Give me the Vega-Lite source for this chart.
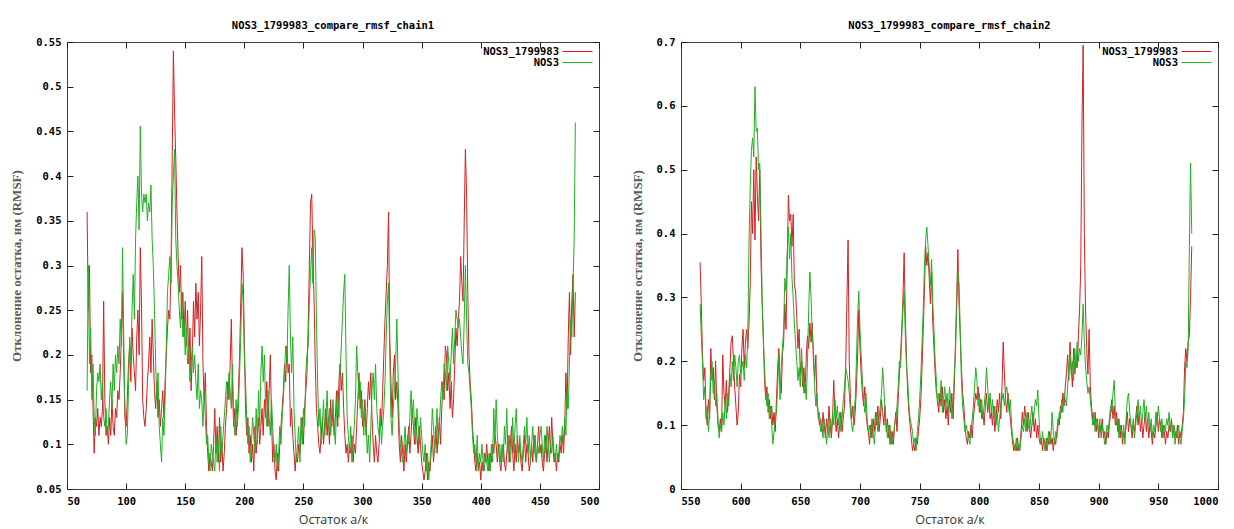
{
"$schema": "https://vega.github.io/schema/vega-lite/v6.json",
"background": "white",
"padding": {"left": 10, "top": 20, "right": 0, "bottom": 0},
"spacing": 30,
"config": {
  "view": {"stroke": "#404040", "strokeWidth": 1},
  "axis": {"domain": false, "grid": false, "labelFont": "DejaVu Sans Mono", "labelFontWeight": "bold", "labelFontSize": 10.5, "labelColor": "#000", "ticks": true, "tickColor": "#202020", "tickSize": 6, "tickWidth": 1, "offset": -6},
  "axisX": {"labelPadding": 7, "titleFont": "Open Sans", "titleFontSize": 12.5, "titleFontWeight": "normal", "titleColor": "#333", "titlePadding": 7},
  "axisY": {"labelPadding": 6, "titleFont": "Liberation Serif", "titleFontSize": 13, "titleFontWeight": "bold", "titleColor": "#5a5a5a", "titlePadding": 12},
  "title": {"font": "DejaVu Sans Mono", "fontWeight": "bold", "fontSize": 10.5, "color": "#000", "offset": 6},
  "legend": {"orient": "top-right", "title": null, "offset": 4, "padding": 0, "symbolType": "M-3,0H3", "symbolSize": 100, "symbolStrokeWidth": 1, "labelAlign": "right", "labelOffset": -24, "symbolOffset": 16, "rowPadding": 0, "labelFont": "DejaVu Sans Mono", "labelFontWeight": "bold", "labelFontSize": 10.5, "labelColor": "#000"}
},
"resolve": {"scale": {"color": "independent"}, "legend": {"color": "independent"}},
"datasets": {
"c1": [
{"r":67,"a":0.36,"b":0.16},{"r":68,"a":0.25,"b":0.30},{"r":69,"a":0.30,"b":0.19},{"r":70,"a":0.18,"b":0.23},{"r":71,"a":0.20,"b":0.15},{"r":72,"a":0.14,"b":0.19},{"r":73,"a":0.09,"b":0.13},{"r":74,"a":0.13,"b":0.11},{"r":75,"a":0.12,"b":0.16},{"r":76,"a":0.14,"b":0.18},{"r":77,"a":0.11,"b":0.17},{"r":78,"a":0.13,"b":0.19},{"r":79,"a":0.12,"b":0.15},{"r":80,"a":0.14,"b":0.17},
{"r":81,"a":0.26,"b":0.13},{"r":82,"a":0.15,"b":0.12},{"r":83,"a":0.11,"b":0.14},{"r":84,"a":0.12,"b":0.11},{"r":85,"a":0.10,"b":0.12},{"r":86,"a":0.13,"b":0.15},{"r":87,"a":0.11,"b":0.17},{"r":88,"a":0.15,"b":0.14},{"r":89,"a":0.12,"b":0.19},{"r":90,"a":0.11,"b":0.16},
{"r":91,"a":0.14,"b":0.20},{"r":92,"a":0.13,"b":0.18},{"r":93,"a":0.16,"b":0.21},{"r":94,"a":0.15,"b":0.19},{"r":95,"a":0.18,"b":0.24},{"r":96,"a":0.22,"b":0.21},{"r":97,"a":0.27,"b":0.32},{"r":98,"a":0.19,"b":0.22},{"r":99,"a":0.13,"b":0.14},{"r":100,"a":0.12,"b":0.10},
{"r":101,"a":0.15,"b":0.11},{"r":102,"a":0.19,"b":0.16},{"r":103,"a":0.21,"b":0.22},{"r":104,"a":0.17,"b":0.19},{"r":105,"a":0.23,"b":0.25},{"r":106,"a":0.20,"b":0.29},{"r":107,"a":0.18,"b":0.24},{"r":108,"a":0.16,"b":0.33},{"r":109,"a":0.22,"b":0.37},{"r":110,"a":0.25,"b":0.40},
{"r":111,"a":0.20,"b":0.34},{"r":112,"a":0.32,"b":0.456},{"r":113,"a":0.26,"b":0.38},{"r":114,"a":0.15,"b":0.36},{"r":115,"a":0.13,"b":0.38},{"r":116,"a":0.12,"b":0.37},{"r":117,"a":0.14,"b":0.38},{"r":118,"a":0.17,"b":0.35},{"r":119,"a":0.19,"b":0.37},{"r":120,"a":0.22,"b":0.36},
{"r":121,"a":0.18,"b":0.39},{"r":122,"a":0.24,"b":0.33},{"r":123,"a":0.20,"b":0.30},{"r":124,"a":0.16,"b":0.25},{"r":125,"a":0.14,"b":0.19},{"r":126,"a":0.17,"b":0.15},{"r":127,"a":0.13,"b":0.18},{"r":128,"a":0.15,"b":0.12},{"r":129,"a":0.12,"b":0.10},{"r":130,"a":0.14,"b":0.08},
{"r":131,"a":0.16,"b":0.13},{"r":132,"a":0.13,"b":0.11},{"r":133,"a":0.17,"b":0.15},{"r":134,"a":0.20,"b":0.21},{"r":135,"a":0.23,"b":0.27},{"r":136,"a":0.25,"b":0.29},{"r":137,"a":0.24,"b":0.31},{"r":138,"a":0.30,"b":0.28},{"r":139,"a":0.42,"b":0.37},{"r":140,"a":0.54,"b":0.40},
{"r":141,"a":0.47,"b":0.43},{"r":142,"a":0.42,"b":0.33},{"r":143,"a":0.36,"b":0.30},{"r":144,"a":0.31,"b":0.28},{"r":145,"a":0.27,"b":0.25},{"r":146,"a":0.30,"b":0.23},{"r":147,"a":0.24,"b":0.27},{"r":148,"a":0.27,"b":0.22},{"r":149,"a":0.22,"b":0.24},{"r":150,"a":0.26,"b":0.20},
{"r":151,"a":0.21,"b":0.23},{"r":152,"a":0.25,"b":0.19},{"r":153,"a":0.19,"b":0.21},{"r":154,"a":0.23,"b":0.17},{"r":155,"a":0.16,"b":0.19},{"r":156,"a":0.20,"b":0.21},{"r":157,"a":0.26,"b":0.18},{"r":158,"a":0.22,"b":0.20},{"r":159,"a":0.28,"b":0.17},{"r":160,"a":0.24,"b":0.15},
{"r":161,"a":0.27,"b":0.19},{"r":162,"a":0.21,"b":0.14},{"r":163,"a":0.25,"b":0.16},{"r":164,"a":0.31,"b":0.15},{"r":165,"a":0.19,"b":0.12},{"r":166,"a":0.15,"b":0.16},{"r":167,"a":0.18,"b":0.13},{"r":168,"a":0.12,"b":0.10},{"r":169,"a":0.09,"b":0.11},{"r":170,"a":0.07,"b":0.08},
{"r":171,"a":0.09,"b":0.07},{"r":172,"a":0.08,"b":0.10},{"r":173,"a":0.07,"b":0.09},{"r":174,"a":0.10,"b":0.08},{"r":175,"a":0.14,"b":0.07},{"r":176,"a":0.09,"b":0.11},{"r":177,"a":0.12,"b":0.08},{"r":178,"a":0.08,"b":0.10},{"r":179,"a":0.13,"b":0.07},{"r":180,"a":0.08,"b":0.12},
{"r":181,"a":0.10,"b":0.09},{"r":182,"a":0.07,"b":0.11},{"r":183,"a":0.09,"b":0.13},{"r":184,"a":0.12,"b":0.15},{"r":185,"a":0.14,"b":0.17},{"r":186,"a":0.17,"b":0.15},{"r":187,"a":0.15,"b":0.18},{"r":188,"a":0.19,"b":0.16},{"r":189,"a":0.24,"b":0.14},{"r":190,"a":0.16,"b":0.19},
{"r":191,"a":0.12,"b":0.13},{"r":192,"a":0.14,"b":0.11},{"r":193,"a":0.11,"b":0.15},{"r":194,"a":0.13,"b":0.12},{"r":195,"a":0.16,"b":0.14},{"r":196,"a":0.20,"b":0.18},{"r":197,"a":0.26,"b":0.22},{"r":198,"a":0.32,"b":0.28},{"r":199,"a":0.29,"b":0.26},{"r":200,"a":0.22,"b":0.20},
{"r":201,"a":0.14,"b":0.17},{"r":202,"a":0.11,"b":0.13},{"r":203,"a":0.13,"b":0.10},{"r":204,"a":0.09,"b":0.12},{"r":205,"a":0.11,"b":0.08},{"r":206,"a":0.08,"b":0.10},{"r":207,"a":0.10,"b":0.13},{"r":208,"a":0.07,"b":0.11},{"r":209,"a":0.12,"b":0.09},{"r":210,"a":0.09,"b":0.14},
{"r":211,"a":0.11,"b":0.10},{"r":212,"a":0.13,"b":0.16},{"r":213,"a":0.10,"b":0.12},{"r":214,"a":0.12,"b":0.18},{"r":215,"a":0.14,"b":0.21},{"r":216,"a":0.11,"b":0.17},{"r":217,"a":0.15,"b":0.20},{"r":218,"a":0.13,"b":0.14},{"r":219,"a":0.17,"b":0.12},{"r":220,"a":0.12,"b":0.16},
{"r":221,"a":0.16,"b":0.13},{"r":222,"a":0.20,"b":0.11},{"r":223,"a":0.13,"b":0.15},{"r":224,"a":0.08,"b":0.12},{"r":225,"a":0.10,"b":0.09},{"r":226,"a":0.07,"b":0.08},{"r":227,"a":0.06,"b":0.10},{"r":228,"a":0.09,"b":0.07},{"r":229,"a":0.07,"b":0.09},{"r":230,"a":0.10,"b":0.12},
{"r":231,"a":0.12,"b":0.10},{"r":232,"a":0.14,"b":0.13},{"r":233,"a":0.16,"b":0.15},{"r":234,"a":0.19,"b":0.18},{"r":235,"a":0.17,"b":0.21},{"r":236,"a":0.21,"b":0.19},{"r":237,"a":0.18,"b":0.25},{"r":238,"a":0.19,"b":0.30},{"r":239,"a":0.12,"b":0.22},{"r":240,"a":0.14,"b":0.18},
{"r":241,"a":0.11,"b":0.22},{"r":242,"a":0.09,"b":0.14},{"r":243,"a":0.07,"b":0.11},{"r":244,"a":0.09,"b":0.08},{"r":245,"a":0.08,"b":0.10},{"r":246,"a":0.10,"b":0.12},{"r":247,"a":0.09,"b":0.08},{"r":248,"a":0.11,"b":0.13},{"r":249,"a":0.13,"b":0.10},{"r":250,"a":0.10,"b":0.14},
{"r":251,"a":0.14,"b":0.12},{"r":252,"a":0.16,"b":0.18},{"r":253,"a":0.18,"b":0.20},{"r":254,"a":0.23,"b":0.21},{"r":255,"a":0.30,"b":0.26},{"r":256,"a":0.37,"b":0.29},{"r":257,"a":0.38,"b":0.32},{"r":258,"a":0.31,"b":0.28},{"r":259,"a":0.26,"b":0.34},{"r":260,"a":0.19,"b":0.33},
{"r":261,"a":0.14,"b":0.24},{"r":262,"a":0.12,"b":0.17},{"r":263,"a":0.10,"b":0.12},{"r":264,"a":0.09,"b":0.14},{"r":265,"a":0.11,"b":0.10},{"r":266,"a":0.13,"b":0.12},{"r":267,"a":0.10,"b":0.15},{"r":268,"a":0.12,"b":0.11},{"r":269,"a":0.14,"b":0.13},{"r":270,"a":0.11,"b":0.16},
{"r":271,"a":0.13,"b":0.12},{"r":272,"a":0.10,"b":0.14},{"r":273,"a":0.15,"b":0.11},{"r":274,"a":0.12,"b":0.13},{"r":275,"a":0.14,"b":0.15},{"r":276,"a":0.11,"b":0.12},{"r":277,"a":0.13,"b":0.10},{"r":278,"a":0.16,"b":0.14},{"r":279,"a":0.12,"b":0.16},{"r":280,"a":0.17,"b":0.13},
{"r":281,"a":0.19,"b":0.18},{"r":282,"a":0.16,"b":0.21},{"r":283,"a":0.18,"b":0.24},{"r":284,"a":0.14,"b":0.27},{"r":285,"a":0.11,"b":0.29},{"r":286,"a":0.09,"b":0.20},{"r":287,"a":0.10,"b":0.13},{"r":288,"a":0.08,"b":0.11},{"r":289,"a":0.10,"b":0.09},{"r":290,"a":0.09,"b":0.12},
{"r":291,"a":0.11,"b":0.08},{"r":292,"a":0.08,"b":0.10},{"r":293,"a":0.10,"b":0.12},{"r":294,"a":0.09,"b":0.15},{"r":295,"a":0.12,"b":0.21},{"r":296,"a":0.15,"b":0.18},{"r":297,"a":0.18,"b":0.15},{"r":298,"a":0.14,"b":0.17},{"r":299,"a":0.16,"b":0.13},{"r":300,"a":0.12,"b":0.15},
{"r":301,"a":0.13,"b":0.11},{"r":302,"a":0.15,"b":0.14},{"r":303,"a":0.11,"b":0.12},{"r":304,"a":0.14,"b":0.09},{"r":305,"a":0.17,"b":0.11},{"r":306,"a":0.15,"b":0.08},{"r":307,"a":0.18,"b":0.12},{"r":308,"a":0.13,"b":0.16},{"r":309,"a":0.10,"b":0.18},{"r":310,"a":0.08,"b":0.15},
{"r":311,"a":0.11,"b":0.19},{"r":312,"a":0.09,"b":0.14},{"r":313,"a":0.08,"b":0.12},{"r":314,"a":0.10,"b":0.11},{"r":315,"a":0.14,"b":0.13},{"r":316,"a":0.12,"b":0.10},{"r":317,"a":0.16,"b":0.12},{"r":318,"a":0.20,"b":0.14},{"r":319,"a":0.24,"b":0.17},{"r":320,"a":0.27,"b":0.22},
{"r":321,"a":0.30,"b":0.26},{"r":322,"a":0.36,"b":0.28},{"r":323,"a":0.22,"b":0.20},{"r":324,"a":0.17,"b":0.13},{"r":325,"a":0.13,"b":0.11},{"r":326,"a":0.18,"b":0.14},{"r":327,"a":0.20,"b":0.16},{"r":328,"a":0.15,"b":0.19},{"r":329,"a":0.17,"b":0.24},{"r":330,"a":0.14,"b":0.18},
{"r":331,"a":0.10,"b":0.12},{"r":332,"a":0.08,"b":0.10},{"r":333,"a":0.11,"b":0.09},{"r":334,"a":0.09,"b":0.08},{"r":335,"a":0.07,"b":0.10},{"r":336,"a":0.10,"b":0.12},{"r":337,"a":0.08,"b":0.09},{"r":338,"a":0.10,"b":0.11},{"r":339,"a":0.12,"b":0.10},{"r":340,"a":0.09,"b":0.13},
{"r":341,"a":0.11,"b":0.16},{"r":342,"a":0.14,"b":0.13},{"r":343,"a":0.12,"b":0.15},{"r":344,"a":0.10,"b":0.12},{"r":345,"a":0.13,"b":0.10},{"r":346,"a":0.11,"b":0.14},{"r":347,"a":0.09,"b":0.12},{"r":348,"a":0.12,"b":0.10},{"r":349,"a":0.10,"b":0.13},{"r":350,"a":0.08,"b":0.11},
{"r":351,"a":0.07,"b":0.09},{"r":352,"a":0.06,"b":0.08},{"r":353,"a":0.07,"b":0.10},{"r":354,"a":0.09,"b":0.07},{"r":355,"a":0.06,"b":0.09},{"r":356,"a":0.08,"b":0.06},{"r":357,"a":0.07,"b":0.08},{"r":358,"a":0.09,"b":0.10},{"r":359,"a":0.11,"b":0.14},{"r":360,"a":0.08,"b":0.12},
{"r":361,"a":0.10,"b":0.09},{"r":362,"a":0.12,"b":0.11},{"r":363,"a":0.09,"b":0.14},{"r":364,"a":0.11,"b":0.10},{"r":365,"a":0.13,"b":0.12},{"r":366,"a":0.10,"b":0.15},{"r":367,"a":0.14,"b":0.17},{"r":368,"a":0.17,"b":0.15},{"r":369,"a":0.15,"b":0.19},{"r":370,"a":0.21,"b":0.18},
{"r":371,"a":0.20,"b":0.16},{"r":372,"a":0.16,"b":0.21},{"r":373,"a":0.18,"b":0.19},{"r":374,"a":0.14,"b":0.17},{"r":375,"a":0.17,"b":0.20},{"r":376,"a":0.13,"b":0.23},{"r":377,"a":0.15,"b":0.19},{"r":378,"a":0.19,"b":0.22},{"r":379,"a":0.23,"b":0.25},{"r":380,"a":0.21,"b":0.24},
{"r":381,"a":0.24,"b":0.23},{"r":382,"a":0.26,"b":0.24},{"r":383,"a":0.31,"b":0.22},{"r":384,"a":0.28,"b":0.20},{"r":385,"a":0.26,"b":0.19},{"r":386,"a":0.35,"b":0.24},{"r":387,"a":0.43,"b":0.30},{"r":388,"a":0.38,"b":0.24},{"r":389,"a":0.27,"b":0.19},{"r":390,"a":0.20,"b":0.18},
{"r":391,"a":0.17,"b":0.16},{"r":392,"a":0.15,"b":0.14},{"r":393,"a":0.12,"b":0.11},{"r":394,"a":0.10,"b":0.09},{"r":395,"a":0.08,"b":0.10},{"r":396,"a":0.07,"b":0.08},{"r":397,"a":0.09,"b":0.11},{"r":398,"a":0.07,"b":0.07},{"r":399,"a":0.08,"b":0.09},{"r":400,"a":0.06,"b":0.08},
{"r":401,"a":0.08,"b":0.10},{"r":402,"a":0.07,"b":0.08},{"r":403,"a":0.09,"b":0.07},{"r":404,"a":0.08,"b":0.09},{"r":405,"a":0.10,"b":0.08},{"r":406,"a":0.08,"b":0.07},{"r":407,"a":0.07,"b":0.09},{"r":408,"a":0.09,"b":0.07},{"r":409,"a":0.08,"b":0.10},{"r":410,"a":0.10,"b":0.08},
{"r":411,"a":0.09,"b":0.14},{"r":412,"a":0.11,"b":0.10},{"r":413,"a":0.10,"b":0.15},{"r":414,"a":0.08,"b":0.11},{"r":415,"a":0.10,"b":0.09},{"r":416,"a":0.08,"b":0.10},{"r":417,"a":0.07,"b":0.08},{"r":418,"a":0.09,"b":0.10},{"r":419,"a":0.10,"b":0.08},{"r":420,"a":0.08,"b":0.12},
{"r":421,"a":0.07,"b":0.10},{"r":422,"a":0.09,"b":0.14},{"r":423,"a":0.11,"b":0.09},{"r":424,"a":0.08,"b":0.11},{"r":425,"a":0.10,"b":0.08},{"r":426,"a":0.12,"b":0.10},{"r":427,"a":0.09,"b":0.13},{"r":428,"a":0.07,"b":0.09},{"r":429,"a":0.10,"b":0.12},{"r":430,"a":0.08,"b":0.14},
{"r":431,"a":0.11,"b":0.10},{"r":432,"a":0.09,"b":0.08},{"r":433,"a":0.10,"b":0.11},{"r":434,"a":0.08,"b":0.09},{"r":435,"a":0.07,"b":0.08},{"r":436,"a":0.09,"b":0.10},{"r":437,"a":0.11,"b":0.12},{"r":438,"a":0.08,"b":0.10},{"r":439,"a":0.10,"b":0.13},{"r":440,"a":0.09,"b":0.09},
{"r":441,"a":0.07,"b":0.11},{"r":442,"a":0.08,"b":0.08},{"r":443,"a":0.10,"b":0.10},{"r":444,"a":0.08,"b":0.12},{"r":445,"a":0.11,"b":0.09},{"r":446,"a":0.09,"b":0.11},{"r":447,"a":0.08,"b":0.08},{"r":448,"a":0.10,"b":0.10},{"r":449,"a":0.12,"b":0.09},{"r":450,"a":0.09,"b":0.11},
{"r":451,"a":0.10,"b":0.12},{"r":452,"a":0.08,"b":0.10},{"r":453,"a":0.07,"b":0.08},{"r":454,"a":0.09,"b":0.11},{"r":455,"a":0.11,"b":0.09},{"r":456,"a":0.08,"b":0.12},{"r":457,"a":0.10,"b":0.10},{"r":458,"a":0.12,"b":0.08},{"r":459,"a":0.09,"b":0.10},{"r":460,"a":0.13,"b":0.09},
{"r":461,"a":0.10,"b":0.11},{"r":462,"a":0.08,"b":0.09},{"r":463,"a":0.09,"b":0.08},{"r":464,"a":0.07,"b":0.10},{"r":465,"a":0.09,"b":0.08},{"r":466,"a":0.08,"b":0.09},{"r":467,"a":0.10,"b":0.11},{"r":468,"a":0.09,"b":0.10},{"r":469,"a":0.11,"b":0.12},{"r":470,"a":0.09,"b":0.10},
{"r":471,"a":0.12,"b":0.13},{"r":472,"a":0.18,"b":0.11},{"r":473,"a":0.14,"b":0.16},{"r":474,"a":0.22,"b":0.14},{"r":475,"a":0.27,"b":0.19},{"r":476,"a":0.20,"b":0.24},{"r":477,"a":0.26,"b":0.22},{"r":478,"a":0.29,"b":0.28},{"r":479,"a":0.22,"b":0.33},{"r":480,"a":0.27,"b":0.46}
],
"c2": [
{"r":566,"a":0.355,"b":0.29},{"r":567,"a":0.29,"b":0.24},{"r":568,"a":0.21,"b":0.20},{"r":569,"a":0.17,"b":0.14},{"r":570,"a":0.19,"b":0.16},
{"r":571,"a":0.12,"b":0.11},{"r":572,"a":0.10,"b":0.13},{"r":573,"a":0.14,"b":0.09},{"r":574,"a":0.11,"b":0.12},{"r":575,"a":0.22,"b":0.18},{"r":576,"a":0.17,"b":0.20},{"r":577,"a":0.19,"b":0.15},{"r":578,"a":0.14,"b":0.17},{"r":579,"a":0.20,"b":0.13},{"r":580,"a":0.13,"b":0.15},
{"r":581,"a":0.10,"b":0.11},{"r":582,"a":0.09,"b":0.08},{"r":583,"a":0.11,"b":0.10},{"r":584,"a":0.09,"b":0.09},{"r":585,"a":0.21,"b":0.12},{"r":586,"a":0.15,"b":0.10},{"r":587,"a":0.13,"b":0.14},{"r":588,"a":0.17,"b":0.11},{"r":589,"a":0.12,"b":0.15},{"r":590,"a":0.15,"b":0.13},
{"r":591,"a":0.19,"b":0.18},{"r":592,"a":0.23,"b":0.16},{"r":593,"a":0.24,"b":0.20},{"r":594,"a":0.20,"b":0.17},{"r":595,"a":0.16,"b":0.21},{"r":596,"a":0.13,"b":0.19},{"r":597,"a":0.10,"b":0.16},{"r":598,"a":0.12,"b":0.20},{"r":599,"a":0.18,"b":0.21},{"r":600,"a":0.16,"b":0.18},
{"r":601,"a":0.22,"b":0.19},{"r":602,"a":0.25,"b":0.20},{"r":603,"a":0.19,"b":0.17},{"r":604,"a":0.23,"b":0.21},{"r":605,"a":0.25,"b":0.19},{"r":606,"a":0.22,"b":0.24},{"r":607,"a":0.26,"b":0.39},{"r":608,"a":0.32,"b":0.47},{"r":609,"a":0.45,"b":0.53},{"r":610,"a":0.40,"b":0.55},
{"r":611,"a":0.50,"b":0.52},{"r":612,"a":0.39,"b":0.63},{"r":613,"a":0.52,"b":0.56},{"r":614,"a":0.46,"b":0.565},{"r":615,"a":0.42,"b":0.50},{"r":616,"a":0.50,"b":0.51},{"r":617,"a":0.36,"b":0.41},{"r":618,"a":0.29,"b":0.30},{"r":619,"a":0.24,"b":0.23},{"r":620,"a":0.17,"b":0.19},
{"r":621,"a":0.14,"b":0.15},{"r":622,"a":0.16,"b":0.13},{"r":623,"a":0.12,"b":0.15},{"r":624,"a":0.14,"b":0.11},{"r":625,"a":0.11,"b":0.13},{"r":626,"a":0.13,"b":0.10},{"r":627,"a":0.10,"b":0.07},{"r":628,"a":0.12,"b":0.09},{"r":629,"a":0.09,"b":0.11},{"r":630,"a":0.14,"b":0.12},
{"r":631,"a":0.19,"b":0.16},{"r":632,"a":0.22,"b":0.21},{"r":633,"a":0.17,"b":0.14},{"r":634,"a":0.15,"b":0.19},{"r":635,"a":0.21,"b":0.22},{"r":636,"a":0.23,"b":0.25},{"r":637,"a":0.29,"b":0.33},{"r":638,"a":0.25,"b":0.31},{"r":639,"a":0.35,"b":0.37},{"r":640,"a":0.46,"b":0.41},
{"r":641,"a":0.42,"b":0.36},{"r":642,"a":0.43,"b":0.40},{"r":643,"a":0.38,"b":0.33},{"r":644,"a":0.43,"b":0.30},{"r":645,"a":0.32,"b":0.26},{"r":646,"a":0.31,"b":0.23},{"r":647,"a":0.27,"b":0.20},{"r":648,"a":0.22,"b":0.17},{"r":649,"a":0.25,"b":0.19},{"r":650,"a":0.18,"b":0.16},
{"r":651,"a":0.20,"b":0.22},{"r":652,"a":0.16,"b":0.18},{"r":653,"a":0.19,"b":0.15},{"r":654,"a":0.15,"b":0.17},{"r":655,"a":0.21,"b":0.14},{"r":656,"a":0.24,"b":0.20},{"r":657,"a":0.22,"b":0.28},{"r":658,"a":0.26,"b":0.34},{"r":659,"a":0.23,"b":0.30},{"r":660,"a":0.26,"b":0.24},
{"r":661,"a":0.20,"b":0.22},{"r":662,"a":0.17,"b":0.16},{"r":663,"a":0.21,"b":0.13},{"r":664,"a":0.13,"b":0.15},{"r":665,"a":0.12,"b":0.11},{"r":666,"a":0.10,"b":0.12},{"r":667,"a":0.11,"b":0.09},{"r":668,"a":0.09,"b":0.10},{"r":669,"a":0.12,"b":0.08},{"r":670,"a":0.10,"b":0.11},
{"r":671,"a":0.08,"b":0.09},{"r":672,"a":0.11,"b":0.07},{"r":673,"a":0.09,"b":0.10},{"r":674,"a":0.13,"b":0.08},{"r":675,"a":0.10,"b":0.11},{"r":676,"a":0.08,"b":0.09},{"r":677,"a":0.11,"b":0.12},{"r":678,"a":0.17,"b":0.10},{"r":679,"a":0.12,"b":0.14},{"r":680,"a":0.09,"b":0.11},
{"r":681,"a":0.11,"b":0.13},{"r":682,"a":0.08,"b":0.10},{"r":683,"a":0.10,"b":0.12},{"r":684,"a":0.12,"b":0.09},{"r":685,"a":0.09,"b":0.11},{"r":686,"a":0.11,"b":0.14},{"r":687,"a":0.13,"b":0.16},{"r":688,"a":0.19,"b":0.19},{"r":689,"a":0.29,"b":0.18},{"r":690,"a":0.39,"b":0.17},
{"r":691,"a":0.20,"b":0.15},{"r":692,"a":0.14,"b":0.12},{"r":693,"a":0.11,"b":0.10},{"r":694,"a":0.13,"b":0.09},{"r":695,"a":0.10,"b":0.12},{"r":696,"a":0.12,"b":0.14},{"r":697,"a":0.16,"b":0.20},{"r":698,"a":0.21,"b":0.27},{"r":699,"a":0.28,"b":0.31},{"r":700,"a":0.22,"b":0.25},
{"r":701,"a":0.18,"b":0.21},{"r":702,"a":0.15,"b":0.17},{"r":703,"a":0.13,"b":0.14},{"r":704,"a":0.16,"b":0.12},{"r":705,"a":0.12,"b":0.15},{"r":706,"a":0.10,"b":0.11},{"r":707,"a":0.09,"b":0.09},{"r":708,"a":0.07,"b":0.10},{"r":709,"a":0.10,"b":0.08},{"r":710,"a":0.08,"b":0.11},
{"r":711,"a":0.11,"b":0.09},{"r":712,"a":0.09,"b":0.07},{"r":713,"a":0.12,"b":0.10},{"r":714,"a":0.10,"b":0.12},{"r":715,"a":0.13,"b":0.09},{"r":716,"a":0.09,"b":0.11},{"r":717,"a":0.11,"b":0.13},{"r":718,"a":0.14,"b":0.15},{"r":719,"a":0.12,"b":0.19},{"r":720,"a":0.10,"b":0.16},
{"r":721,"a":0.13,"b":0.12},{"r":722,"a":0.09,"b":0.10},{"r":723,"a":0.11,"b":0.08},{"r":724,"a":0.08,"b":0.10},{"r":725,"a":0.10,"b":0.07},{"r":726,"a":0.07,"b":0.09},{"r":727,"a":0.09,"b":0.07},{"r":728,"a":0.07,"b":0.08},{"r":729,"a":0.10,"b":0.10},{"r":730,"a":0.12,"b":0.11},
{"r":731,"a":0.09,"b":0.13},{"r":732,"a":0.14,"b":0.16},{"r":733,"a":0.18,"b":0.20},{"r":734,"a":0.21,"b":0.19},{"r":735,"a":0.25,"b":0.24},{"r":736,"a":0.30,"b":0.28},{"r":737,"a":0.37,"b":0.31},{"r":738,"a":0.27,"b":0.24},{"r":739,"a":0.20,"b":0.19},{"r":740,"a":0.15,"b":0.17},
{"r":741,"a":0.12,"b":0.13},{"r":742,"a":0.10,"b":0.11},{"r":743,"a":0.08,"b":0.10},{"r":744,"a":0.06,"b":0.09},{"r":745,"a":0.07,"b":0.07},{"r":746,"a":0.06,"b":0.08},{"r":747,"a":0.08,"b":0.06},{"r":748,"a":0.07,"b":0.09},{"r":749,"a":0.09,"b":0.11},{"r":750,"a":0.11,"b":0.14},
{"r":751,"a":0.14,"b":0.18},{"r":752,"a":0.19,"b":0.23},{"r":753,"a":0.25,"b":0.28},{"r":754,"a":0.31,"b":0.35},{"r":755,"a":0.38,"b":0.39},{"r":756,"a":0.35,"b":0.41},{"r":757,"a":0.37,"b":0.38},{"r":758,"a":0.33,"b":0.35},{"r":759,"a":0.29,"b":0.32},{"r":760,"a":0.34,"b":0.36},
{"r":761,"a":0.26,"b":0.29},{"r":762,"a":0.22,"b":0.25},{"r":763,"a":0.18,"b":0.20},{"r":764,"a":0.15,"b":0.17},{"r":765,"a":0.14,"b":0.13},{"r":766,"a":0.12,"b":0.15},{"r":767,"a":0.15,"b":0.14},{"r":768,"a":0.13,"b":0.17},{"r":769,"a":0.16,"b":0.12},{"r":770,"a":0.12,"b":0.14},
{"r":771,"a":0.14,"b":0.16},{"r":772,"a":0.11,"b":0.13},{"r":773,"a":0.13,"b":0.15},{"r":774,"a":0.10,"b":0.12},{"r":775,"a":0.14,"b":0.16},{"r":776,"a":0.12,"b":0.14},{"r":777,"a":0.15,"b":0.11},{"r":778,"a":0.11,"b":0.13},{"r":779,"a":0.16,"b":0.18},{"r":780,"a":0.23,"b":0.21},
{"r":781,"a":0.30,"b":0.28},{"r":782,"a":0.375,"b":0.34},{"r":783,"a":0.29,"b":0.32},{"r":784,"a":0.24,"b":0.25},{"r":785,"a":0.19,"b":0.17},{"r":786,"a":0.15,"b":0.13},{"r":787,"a":0.13,"b":0.11},{"r":788,"a":0.10,"b":0.09},{"r":789,"a":0.08,"b":0.10},{"r":790,"a":0.07,"b":0.09},
{"r":791,"a":0.09,"b":0.08},{"r":792,"a":0.08,"b":0.07},{"r":793,"a":0.10,"b":0.09},{"r":794,"a":0.08,"b":0.11},{"r":795,"a":0.11,"b":0.13},{"r":796,"a":0.13,"b":0.16},{"r":797,"a":0.15,"b":0.19},{"r":798,"a":0.14,"b":0.17},{"r":799,"a":0.16,"b":0.13},{"r":800,"a":0.12,"b":0.15},
{"r":801,"a":0.14,"b":0.12},{"r":802,"a":0.11,"b":0.14},{"r":803,"a":0.12,"b":0.11},{"r":804,"a":0.10,"b":0.13},{"r":805,"a":0.13,"b":0.15},{"r":806,"a":0.15,"b":0.19},{"r":807,"a":0.12,"b":0.16},{"r":808,"a":0.14,"b":0.13},{"r":809,"a":0.11,"b":0.15},{"r":810,"a":0.12,"b":0.12},
{"r":811,"a":0.10,"b":0.14},{"r":812,"a":0.13,"b":0.11},{"r":813,"a":0.09,"b":0.13},{"r":814,"a":0.11,"b":0.10},{"r":815,"a":0.14,"b":0.12},{"r":816,"a":0.12,"b":0.09},{"r":817,"a":0.15,"b":0.11},{"r":818,"a":0.11,"b":0.13},{"r":819,"a":0.16,"b":0.14},{"r":820,"a":0.23,"b":0.15},
{"r":821,"a":0.18,"b":0.13},{"r":822,"a":0.14,"b":0.15},{"r":823,"a":0.12,"b":0.16},{"r":824,"a":0.15,"b":0.14},{"r":825,"a":0.13,"b":0.12},{"r":826,"a":0.11,"b":0.14},{"r":827,"a":0.09,"b":0.10},{"r":828,"a":0.07,"b":0.08},{"r":829,"a":0.06,"b":0.07},{"r":830,"a":0.07,"b":0.06},
{"r":831,"a":0.06,"b":0.08},{"r":832,"a":0.08,"b":0.06},{"r":833,"a":0.06,"b":0.07},{"r":834,"a":0.07,"b":0.06},{"r":835,"a":0.09,"b":0.08},{"r":836,"a":0.12,"b":0.10},{"r":837,"a":0.10,"b":0.09},{"r":838,"a":0.13,"b":0.11},{"r":839,"a":0.11,"b":0.09},{"r":840,"a":0.09,"b":0.12},
{"r":841,"a":0.12,"b":0.10},{"r":842,"a":0.10,"b":0.09},{"r":843,"a":0.08,"b":0.11},{"r":844,"a":0.10,"b":0.13},{"r":845,"a":0.12,"b":0.10},{"r":846,"a":0.09,"b":0.12},{"r":847,"a":0.11,"b":0.14},{"r":848,"a":0.08,"b":0.13},{"r":849,"a":0.10,"b":0.155},{"r":850,"a":0.08,"b":0.11},
{"r":851,"a":0.07,"b":0.08},{"r":852,"a":0.08,"b":0.07},{"r":853,"a":0.06,"b":0.09},{"r":854,"a":0.08,"b":0.07},{"r":855,"a":0.07,"b":0.06},{"r":856,"a":0.06,"b":0.08},{"r":857,"a":0.08,"b":0.06},{"r":858,"a":0.07,"b":0.09},{"r":859,"a":0.09,"b":0.07},{"r":860,"a":0.07,"b":0.08},
{"r":861,"a":0.08,"b":0.12},{"r":862,"a":0.06,"b":0.09},{"r":863,"a":0.08,"b":0.07},{"r":864,"a":0.07,"b":0.09},{"r":865,"a":0.09,"b":0.08},{"r":866,"a":0.11,"b":0.10},{"r":867,"a":0.10,"b":0.12},{"r":868,"a":0.13,"b":0.11},{"r":869,"a":0.12,"b":0.14},{"r":870,"a":0.15,"b":0.12},
{"r":871,"a":0.13,"b":0.15},{"r":872,"a":0.16,"b":0.14},{"r":873,"a":0.18,"b":0.13},{"r":874,"a":0.21,"b":0.16},{"r":875,"a":0.17,"b":0.19},{"r":876,"a":0.23,"b":0.21},{"r":877,"a":0.19,"b":0.18},{"r":878,"a":0.16,"b":0.20},{"r":879,"a":0.22,"b":0.17},{"r":880,"a":0.18,"b":0.22},
{"r":881,"a":0.20,"b":0.19},{"r":882,"a":0.19,"b":0.23},{"r":883,"a":0.24,"b":0.20},{"r":884,"a":0.28,"b":0.22},{"r":885,"a":0.35,"b":0.21},{"r":886,"a":0.57,"b":0.24},{"r":887,"a":0.695,"b":0.29},{"r":888,"a":0.40,"b":0.23},{"r":889,"a":0.28,"b":0.19},{"r":890,"a":0.22,"b":0.17},
{"r":891,"a":0.18,"b":0.15},{"r":892,"a":0.25,"b":0.16},{"r":893,"a":0.16,"b":0.14},{"r":894,"a":0.13,"b":0.12},{"r":895,"a":0.11,"b":0.10},{"r":896,"a":0.10,"b":0.12},{"r":897,"a":0.12,"b":0.09},{"r":898,"a":0.09,"b":0.11},{"r":899,"a":0.11,"b":0.10},{"r":900,"a":0.08,"b":0.09},
{"r":901,"a":0.10,"b":0.11},{"r":902,"a":0.09,"b":0.08},{"r":903,"a":0.11,"b":0.10},{"r":904,"a":0.08,"b":0.09},{"r":905,"a":0.09,"b":0.07},{"r":906,"a":0.07,"b":0.08},{"r":907,"a":0.09,"b":0.10},{"r":908,"a":0.08,"b":0.09},{"r":909,"a":0.10,"b":0.11},{"r":910,"a":0.12,"b":0.13},
{"r":911,"a":0.14,"b":0.12},{"r":912,"a":0.11,"b":0.15},{"r":913,"a":0.13,"b":0.17},{"r":914,"a":0.10,"b":0.12},{"r":915,"a":0.12,"b":0.10},{"r":916,"a":0.09,"b":0.11},{"r":917,"a":0.11,"b":0.08},{"r":918,"a":0.08,"b":0.10},{"r":919,"a":0.10,"b":0.09},{"r":920,"a":0.07,"b":0.08},
{"r":921,"a":0.09,"b":0.10},{"r":922,"a":0.08,"b":0.07},{"r":923,"a":0.10,"b":0.11},{"r":924,"a":0.12,"b":0.14},{"r":925,"a":0.09,"b":0.15},{"r":926,"a":0.11,"b":0.12},{"r":927,"a":0.10,"b":0.10},{"r":928,"a":0.08,"b":0.09},{"r":929,"a":0.10,"b":0.11},{"r":930,"a":0.09,"b":0.08},
{"r":931,"a":0.11,"b":0.10},{"r":932,"a":0.13,"b":0.12},{"r":933,"a":0.10,"b":0.14},{"r":934,"a":0.12,"b":0.11},{"r":935,"a":0.09,"b":0.13},{"r":936,"a":0.11,"b":0.10},{"r":937,"a":0.08,"b":0.12},{"r":938,"a":0.10,"b":0.14},{"r":939,"a":0.12,"b":0.11},{"r":940,"a":0.09,"b":0.13},
{"r":941,"a":0.11,"b":0.10},{"r":942,"a":0.08,"b":0.12},{"r":943,"a":0.10,"b":0.09},{"r":944,"a":0.09,"b":0.11},{"r":945,"a":0.07,"b":0.08},{"r":946,"a":0.09,"b":0.10},{"r":947,"a":0.08,"b":0.09},{"r":948,"a":0.10,"b":0.12},{"r":949,"a":0.12,"b":0.10},{"r":950,"a":0.09,"b":0.13},
{"r":951,"a":0.11,"b":0.11},{"r":952,"a":0.10,"b":0.09},{"r":953,"a":0.08,"b":0.11},{"r":954,"a":0.10,"b":0.08},{"r":955,"a":0.09,"b":0.10},{"r":956,"a":0.07,"b":0.09},{"r":957,"a":0.09,"b":0.11},{"r":958,"a":0.08,"b":0.10},{"r":959,"a":0.10,"b":0.12},{"r":960,"a":0.09,"b":0.09},
{"r":961,"a":0.11,"b":0.11},{"r":962,"a":0.08,"b":0.08},{"r":963,"a":0.10,"b":0.10},{"r":964,"a":0.09,"b":0.07},{"r":965,"a":0.08,"b":0.09},{"r":966,"a":0.10,"b":0.08},{"r":967,"a":0.07,"b":0.10},{"r":968,"a":0.09,"b":0.08},{"r":969,"a":0.08,"b":0.07},{"r":970,"a":0.10,"b":0.09},
{"r":971,"a":0.12,"b":0.11},{"r":972,"a":0.19,"b":0.14},{"r":973,"a":0.22,"b":0.20},{"r":974,"a":0.20,"b":0.19},{"r":975,"a":0.23,"b":0.22},{"r":976,"a":0.24,"b":0.38},{"r":977,"a":0.30,"b":0.51},{"r":978,"a":0.38,"b":0.40}
]
},
"hconcat": [
{
  "title": "NOS3_1799983_compare_rmsf_chain1",
  "width": 532, "height": 447,
  "data": {"name": "c1"},
  "transform": [{"fold": ["a", "b"], "as": ["s", "v"]}],
  "layer": [
    {"mark": {"type": "line", "strokeWidth": 1},
     "encoding": {
       "x": {"field": "r", "type": "quantitative", "scale": {"domain": [50, 500], "nice": false, "zero": false}, "axis": {"values": [50,100,150,200,250,300,350,400,450,500], "format": "d", "title": "Остаток а/к"}},
       "y": {"field": "v", "type": "quantitative", "scale": {"domain": [0.05, 0.55], "nice": false, "zero": false}, "axis": {"values": [0.05,0.1,0.15,0.2,0.25,0.3,0.35,0.4,0.45,0.5,0.55], "format": "~g", "title": "Отклонение остатка, нм (RMSF)"}},
       "color": {"field": "s", "type": "nominal", "scale": {"domain": ["a", "b"], "range": ["#d42020", "#22b022"]}, "legend": {"labelExpr": "datum.value == 'a' ? 'NOS3_1799983' : 'NOS3'"}}
     }},
    {"mark": {"type": "line", "opacity": 0},
     "encoding": {
       "x": {"field": "r", "type": "quantitative", "axis": {"orient": "top", "labels": false, "title": null, "values": [50,100,150,200,250,300,350,400,450,500]}},
       "y": {"field": "v", "type": "quantitative", "axis": {"orient": "right", "labels": false, "title": null, "values": [0.05,0.1,0.15,0.2,0.25,0.3,0.35,0.4,0.45,0.5,0.55]}},
       "detail": {"field": "s"}
     }}
  ],
  "resolve": {"axis": {"x": "independent", "y": "independent"}}
},
{
  "title": "NOS3_1799983_compare_rmsf_chain2",
  "width": 537, "height": 447,
  "data": {"name": "c2"},
  "transform": [{"fold": ["a", "b"], "as": ["s", "v"]}],
  "layer": [
    {"mark": {"type": "line", "strokeWidth": 1},
     "encoding": {
       "x": {"field": "r", "type": "quantitative", "scale": {"domain": [550, 1000], "nice": false, "zero": false}, "axis": {"values": [550,600,650,700,750,800,850,900,950,1000], "format": "d", "title": "Остаток а/к"}},
       "y": {"field": "v", "type": "quantitative", "scale": {"domain": [0, 0.7], "nice": false, "zero": false}, "axis": {"values": [0,0.1,0.2,0.3,0.4,0.5,0.6,0.7], "format": "~g", "title": "Отклонение остатка, нм (RMSF)"}},
       "color": {"field": "s", "type": "nominal", "scale": {"domain": ["a", "b"], "range": ["#d42020", "#22b022"]}, "legend": {"labelExpr": "datum.value == 'a' ? 'NOS3_1799983' : 'NOS3'"}}
     }},
    {"mark": {"type": "line", "opacity": 0},
     "encoding": {
       "x": {"field": "r", "type": "quantitative", "axis": {"orient": "top", "labels": false, "title": null, "values": [550,600,650,700,750,800,850,900,950,1000]}},
       "y": {"field": "v", "type": "quantitative", "axis": {"orient": "right", "labels": false, "title": null, "values": [0,0.1,0.2,0.3,0.4,0.5,0.6,0.7]}},
       "detail": {"field": "s"}
     }}
  ],
  "resolve": {"axis": {"x": "independent", "y": "independent"}}
}
]
}
